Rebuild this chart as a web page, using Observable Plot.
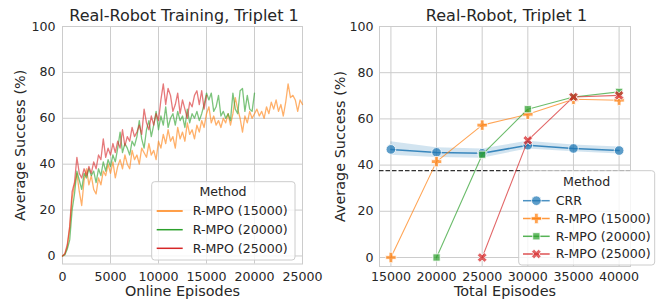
<!DOCTYPE html>
<html><head><meta charset="utf-8">
<script src="https://cdn.jsdelivr.net/npm/d3@7"></script>
<script src="https://cdn.jsdelivr.net/npm/@observablehq/plot@0.6"></script>
<style>
body{margin:0;background:#fff;font-family:"DejaVu Sans",sans-serif;}
#wrap{position:relative;width:666px;height:299px;overflow:hidden;background:#fff}
#left,#right{position:absolute;top:0;width:333px;height:299px}
#left{left:0}#right{left:333px}
</style></head><body>
<div id="wrap"><div id="left"></div><div id="right"></div></div>
<script>
// ---------- data ----------
const methods = ["CRR", "R-MPO (15000)", "R-MPO (20000)", "R-MPO (25000)"];
const onlineMethods = ["R-MPO (15000)", "R-MPO (20000)", "R-MPO (25000)"];
const onlineStep = 250; // episodes between logged points
const onlineR15 = [
  0,1,4,12,25,31,36,28,22,33,
  38,31,35,29,27,34,31,37,35,40,
  36,41,34,39,42,38,44,40,38,46,
  42,44,40,47,45,43,49,44,46,42,
  50,47,53,49,55,50,52,47,56,51,
  54,50,58,53,55,51,57,54,59,56,
  62,65,58,61,57,59,56,60,58,62,
  57,62,69,64,60,54,61,58,63,60,
  62,64,61,63,60,65,62,67,64,68,
  63,66,61,67,75,69,70,68,63,68,
  66];
const onlineR20 = [
  0,0.5,3,7,20,27,37,33,29,36,
  34,38,35,37,32,38,35,41,37,42,
  39,44,41,47,54,45,49,47,44,50,
  48,52,59,51,47,55,59,52,57,63,
  55,61,57,65,56,60,62,57,63,59,
  61,56,64,58,62,60,63,59,62,66,
  71,68,71,63,65,70,61,63,60,62,
  59,71,64,62,72,73,63,70,64,63,
  71];
const onlineR25 = [
  0,1,5,13,28,32,43,36,34,38,
  35,39,36,41,38,44,42,51,43,47,
  44,49,45,50,47,55,48,52,50,56,
  52,54,57,53,64,58,55,61,57,62,
  59,68,75,66,73,70,63,66,71,62,
  68,64,60,67,65,70,72,66,72,64,
  70];

const totalEpisodes = [15000, 20000, 25000, 30000, 35000, 40000];
const crrMean = [46.8, 45.5, 45.1, 48.6, 47.2, 46.3];
const crrLow  = [44.3, 43.3, 43.0, 47.0, 45.8, 44.8];
const crrHigh = [50.1, 47.5, 47.0, 50.3, 48.7, 47.8];
const r15Episodes = [15000, 20000, 25000, 30000, 35000, 40000];
const r15Success  = [0, 41.5, 57.3, 62.0, 68.5, 68.1];
const r20Episodes = [20000, 25000, 30000, 35000, 40000];
const r20Success  = [0, 44.5, 64.2, 69.5, 71.7];
const r25Episodes = [25000, 30000, 35000, 40000];
const r25Success  = [0, 50.7, 69.5, 70.2];
const baseline = 37.6;

const xTicksOnline = [0, 5000, 10000, 15000, 20000, 25000];
const xTicksTotal = [15000, 20000, 25000, 30000, 35000, 40000];
const yTicks = [0, 20, 40, 60, 80, 100];

// ---------- styling ----------
const palette = ["#1f77b4", "#ff7f0e", "#2ca02c", "#d62728"];
const textColor = "#262626";
const gridColor = "#cccccc";
const font = "DejaVu Sans";

// custom matplotlib-like filled markers (half extent = r)
function plusShape(rot) {
  return {
    draw(ctx, size) {
      const r = Math.sqrt(size / Math.PI), a = r * 0.36;
      const pts = [[-a,-r],[a,-r],[a,-a],[r,-a],[r,a],[a,a],[a,r],[-a,r],[-a,a],[-r,a],[-r,-a],[-a,-a]];
      const c = Math.cos(rot), s = Math.sin(rot);
      pts.forEach(([x, y], i) => {
        const X = x * c - y * s, Y = x * s + y * c;
        if (i === 0) ctx.moveTo(X, Y); else ctx.lineTo(X, Y);
      });
      ctx.closePath();
    }
  };
}
const symPlus = plusShape(0);
const symX = plusShape(Math.PI / 4);
const symSquare = {
  draw(ctx, size) { const r = Math.sqrt(size / Math.PI); ctx.rect(-r, -r, 2 * r, 2 * r); }
};
const symCircle = {
  draw(ctx, size) { const r = Math.sqrt(size / Math.PI); ctx.moveTo(r, 0); ctx.arc(0, 0, r, 0, 2 * Math.PI); }
};
const markerSym = [symCircle, symPlus, symSquare, symX];
const markerR = [4.8, 5.2, 3.6, 5.0];

// ---------- tables ----------
const onlineRows = [];
[onlineR15, onlineR20, onlineR25].forEach((arr, k) => {
  arr.forEach((v, i) => onlineRows.push({episode: i * onlineStep, success: v, method: onlineMethods[k]}));
});
const crrRows = totalEpisodes.map((e, i) => ({episode: e, success: crrMean[i], lo: crrLow[i], hi: crrHigh[i]}));
const seriesRows = [
  totalEpisodes.map((e, i) => ({episode: e, success: crrMean[i]})),
  r15Episodes.map((e, i) => ({episode: e, success: r15Success[i]})),
  r20Episodes.map((e, i) => ({episode: e, success: r20Success[i]})),
  r25Episodes.map((e, i) => ({episode: e, success: r25Success[i]}))
];

const baseStyle = {fontFamily: font, fontSize: "12.6px", color: textColor, background: "white", overflow: "visible"};
const lab = (t, o) => Plot.text([t], Object.assign({text: d => d, fill: textColor, lineAnchor: "middle", textAnchor: "middle", fontFamily: font}, o));

// ---------- left panel ----------
const left = Plot.plot({
  width: 333, height: 299,
  marginLeft: 62, marginRight: 31, marginTop: 26, marginBottom: 35.5,
  x: {domain: [0, 25000]},
  y: {domain: [-3.5, 100]},
  color: {domain: methods, range: palette},
  style: baseStyle,
  marks: [
    Plot.gridX(xTicksOnline, {stroke: gridColor, strokeOpacity: 1, strokeWidth: 1}),
    Plot.gridY(yTicks, {stroke: gridColor, strokeOpacity: 1, strokeWidth: 1}),
    Plot.frame({stroke: gridColor, strokeWidth: 1}),
    Plot.line(onlineRows, {x: "episode", y: "success", z: "method", stroke: "method", strokeWidth: 1.3, strokeOpacity: 0.62}),
    Plot.axisX(xTicksOnline, {tickSize: 0, tickPadding: 8.5, tickFormat: d => String(d), label: null, fill: textColor}),
    Plot.axisY(yTicks, {tickSize: 0, tickPadding: 7, tickFormat: d => String(d), label: null, fill: textColor}),
    lab("Real-Robot Training, Triplet 1", {frameAnchor: "top", dy: -10.5, dx: 1.5, fontSize: 16}),
    lab("Online Episodes", {frameAnchor: "bottom", dy: 27.3, fontSize: 14.4}),
    lab("Average Success (%)", {frameAnchor: "left", rotate: -90, dx: -41.7, fontSize: 14.4})
  ]
});
document.getElementById("left").appendChild(left);

// ---------- right panel ----------
const rightMarks = [
  Plot.gridX(xTicksTotal, {stroke: gridColor, strokeOpacity: 1, strokeWidth: 1}),
  Plot.gridY(yTicks, {stroke: gridColor, strokeOpacity: 1, strokeWidth: 1}),
  Plot.frame({stroke: gridColor, strokeWidth: 1}),
  Plot.areaY(crrRows, {x: "episode", y1: "lo", y2: "hi", fill: palette[0], fillOpacity: 0.2}),
  Plot.ruleY([baseline], {stroke: "#333333", strokeWidth: 1.3, strokeDasharray: "4.5,2"})
];
seriesRows.forEach((rows, k) => {
  rightMarks.push(Plot.line(rows, {x: "episode", y: "success", stroke: palette[k], strokeWidth: k === 0 ? 1.5 : 1.1, strokeOpacity: k === 0 ? 0.85 : 0.7}));
  rightMarks.push(Plot.dot(rows, {x: "episode", y: "success", symbol: markerSym[k], r: markerR[k], fill: palette[k], fillOpacity: 0.72, stroke: "white", strokeWidth: 0.8}));
});
rightMarks.push(
  Plot.axisX(xTicksTotal, {tickSize: 0, tickPadding: 6, tickFormat: d => String(d), label: null, fill: textColor}),
  Plot.axisY(yTicks, {tickSize: 0, tickPadding: 6, tickFormat: d => String(d), label: null, fill: textColor}),
  lab("Real-Robot, Triplet 1", {frameAnchor: "top", dy: -10.5, dx: 1.5, fontSize: 16}),
  lab("Total Episodes", {frameAnchor: "bottom", dy: 24.8, fontSize: 14.4}),
  lab("Average Success (%)", {frameAnchor: "left", rotate: -90, dx: -38.7, fontSize: 14.4})
);
const right = Plot.plot({
  width: 333, height: 299,
  marginLeft: 46, marginRight: 36, marginTop: 26, marginBottom: 33,
  x: {domain: [13750, 41250]},
  y: {domain: [-3.9, 100]},
  style: baseStyle,
  marks: rightMarks
});
document.getElementById("right").appendChild(right);

// ---------- legends (drawn in pixel space on top of each svg) ----------
function legend(svg, box, items, withMarkers) {
  const g = d3.select(svg).append("g").attr("font-family", font).attr("fill", textColor);
  g.append("rect").attr("x", box.x).attr("y", box.y).attr("width", box.w).attr("height", box.h)
    .attr("rx", 3).attr("fill", "white").attr("fill-opacity", 0.8).attr("stroke", gridColor).attr("stroke-width", 1);
  g.append("text").attr("x", box.titleX).attr("y", box.titleY).attr("dy", "0.35em")
    .attr("text-anchor", "middle").attr("font-size", 12.6).text("Method");
  items.forEach((it, i) => {
    const y = box.rows[i];
    g.append("line").attr("x1", box.sw0).attr("x2", box.sw1).attr("y1", y).attr("y2", y)
      .attr("stroke", palette[it]).attr("stroke-width", 1.5).attr("stroke-opacity", withMarkers ? 0.8 : 1);
    if (withMarkers) {
      const r = markerR[it];
      g.append("path").attr("transform", `translate(${(box.sw0 + box.sw1) / 2},${y})`)
        .attr("d", d3.symbol().type(markerSym[it]).size(r * r * Math.PI)())
        .attr("fill", palette[it]).attr("fill-opacity", 0.72).attr("stroke", "white").attr("stroke-width", 0.8);
    }
    g.append("text").attr("x", box.tx).attr("y", y).attr("dy", "0.35em").attr("text-anchor", "start")
      .attr("font-size", 12.6).text(methods[it]);
  });
}
legend(left, {x: 151.7, y: 181.7, w: 143.3, h: 78.3, titleX: 223, titleY: 191.7,
  rows: [211, 229.7, 248.3], sw0: 156.7, sw1: 182.7, tx: 192.7}, [1, 2, 3], false);
legend(right, {x: 185.7, y: 170.7, w: 136, h: 94.3, titleX: 253.7, titleY: 181.7,
  rows: [200.7, 218.5, 236.3, 254], sw0: 190, sw1: 216.7, tx: 222.7}, [0, 1, 2, 3], true);
</script>
</body></html>
